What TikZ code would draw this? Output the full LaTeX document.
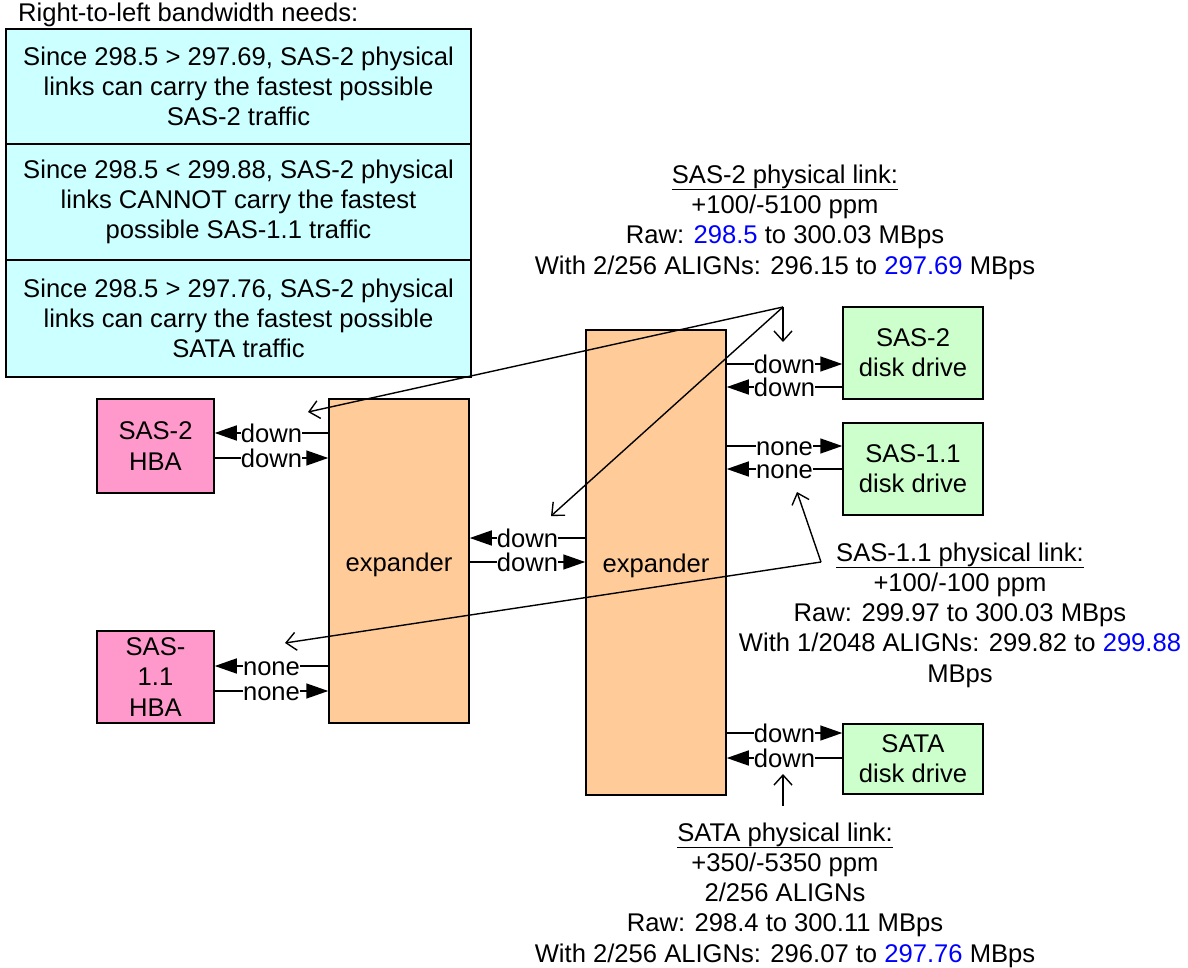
\documentclass[tikz,border=0pt]{standalone}
\usepackage{fontspec}
\setmainfont{Liberation Sans}
\usetikzlibrary{arrows.meta}
\definecolor{cyanbox}{HTML}{CCFFFF}
\definecolor{pinkbox}{HTML}{FF99CC}
\definecolor{orangebox}{HTML}{FFCC99}
\definecolor{greenbox}{HTML}{CCFFCC}
\definecolor{hiblue}{HTML}{0000FF}
\newcommand{\myul}[1]{\leavevmode\vtop{\hbox{#1}\kern0.5pt\hrule height 1.4pt}}
\tikzset{
  box/.style={draw, line width=1.5pt, inner sep=0pt, align=center},
  conn/.style={line width=1.5pt, -{Triangle[length=22pt,width=15pt]}},
  lbl/.style={fill=white, inner sep=0.3pt, text height=19pt, text depth=0pt, midway},
  callout/.style={line width=1.4pt, -{Straight Barb[length=10pt,width=18pt]}},
  txt/.style={inner sep=0pt, align=center}
}
\begin{document}
\begin{tikzpicture}[x=1pt,y=-1pt,font=\fontsize{25.6}{30.3}\selectfont]
\useasboundingbox (0,0) rectangle (1188,968);

% title
\node[inner sep=0pt, anchor=west] (title) at (18,15) {Right-to-left bandwidth needs:};

% cyan boxes
\node[box, fill=cyanbox, minimum width=465pt, minimum height=115pt] (c1) at (238.5,86.5)
  {Since 298.5 > 297.69, SAS-2 physical\\links can carry the fastest possible\\SAS-2 traffic};
\node[box, fill=cyanbox, minimum width=465pt, minimum height=116pt] (c2) at (238.5,202)
  {Since 298.5 < 299.88, SAS-2 physical\\links CANNOT carry the fastest\\possible SAS-1.1 traffic};
\node[box, fill=cyanbox, minimum width=465pt, minimum height=117pt] (c3) at (238.5,318.5)
  {Since 298.5 > 297.76, SAS-2 physical\\links can carry the fastest possible\\SATA traffic};

% HBAs
\node[box, fill=pinkbox, minimum width=117pt, minimum height=94pt] (hba2) at (155.5,446) {SAS-2\\HBA};
\node[box, fill=pinkbox, minimum width=117pt, minimum height=92pt] (hba1) at (155.5,677) {SAS-\\1.1\\HBA};

% expanders
\node[box, fill=orangebox, minimum width=140pt, minimum height=324pt] (expL) at (399,561) {\raisebox{-4pt}[\height][\depth]{expander}};
\node[box, fill=orangebox, minimum width=140pt, minimum height=465pt] (expR) at (656,562.5) {\raisebox{-3pt}[\height][\depth]{expander}};

% drives
\node[box, fill=greenbox, minimum width=140pt, minimum height=92pt] (d2) at (913,353) {SAS-2\\disk drive};
\node[box, fill=greenbox, minimum width=140pt, minimum height=92pt] (d11) at (913,469) {SAS-1.1\\disk drive};
\node[box, fill=greenbox, minimum width=140pt, minimum height=70pt] (dsata) at (913,759) {SATA\\disk drive};

% left links
\draw[conn] (expL.west |- 0,433) -- (hba2.east |- 0,433) node[lbl]{down};
\draw[conn] (hba2.east |- 0,458) -- (expL.west |- 0,458) node[lbl]{down};
\draw[conn] (expL.west |- 0,666) -- (hba1.east |- 0,666) node[lbl]{none};
\draw[conn] (hba1.east |- 0,691) -- (expL.west |- 0,691) node[lbl]{none};

% between expanders
\draw[conn] (expR.west |- 0,538) -- (expL.east |- 0,538) node[lbl]{down};
\draw[conn] (expL.east |- 0,562) -- (expR.west |- 0,562) node[lbl]{down};

% right links
\draw[conn] (expR.east |- 0,364) -- (d2.west |- 0,364) node[lbl]{down};
\draw[conn] (d2.west |- 0,387) -- (expR.east |- 0,387) node[lbl]{down};
\draw[conn] (expR.east |- 0,446) -- (d11.west |- 0,446) node[lbl]{none};
\draw[conn] (d11.west |- 0,469) -- (expR.east |- 0,469) node[lbl]{none};
\draw[conn] (expR.east |- 0,733) -- (dsata.west |- 0,733) node[lbl]{down};
\draw[conn] (dsata.west |- 0,758) -- (expR.east |- 0,758) node[lbl]{down};

% text blocks
\node[txt] (t2) at (785,222) {\myul{SAS-2 physical link:}\\+100/-5100 ppm\\Raw: \textcolor{hiblue}{298.5} to 300.03 MBps\\With 2/256 ALIGNs: 296.15 to \textcolor{hiblue}{297.69} MBps};
\node[txt] (t11) at (960,615) {\myul{SAS-1.1 physical link:}\\+100/-100 ppm\\Raw: 299.97 to 300.03 MBps\\With 1/2048 ALIGNs: 299.82 to \textcolor{hiblue}{299.88}\\MBps};
\node[txt] (ts) at (785,895) {\myul{SATA physical link:}\\+350/-5350 ppm\\2/256 ALIGNs\\Raw: 298.4 to 300.11 MBps\\With 2/256 ALIGNs: 296.07 to \textcolor{hiblue}{297.76} MBps};

% callouts
\coordinate (a2) at (783,307);
\coordinate (a2t1) at (783,342);
\coordinate (a2t2) at (308,412);
\coordinate (a2t3) at (551,516);
\draw[callout] (a2) -- (a2t1);
\draw[callout] (a2) -- (a2t2);
\draw[callout] (a2) -- (a2t3);
\coordinate (a11) at (821,562);
\coordinate (a11t1) at (797,492);
\coordinate (a11t2) at (285,643);
\draw[callout] (a11) -- (a11t1);
\draw[callout] (a11) -- (a11t2);
\coordinate (as) at (783,806);
\coordinate (ast) at (783,774);
\draw[callout] (as) -- (ast);
\end{tikzpicture}
\end{document}
